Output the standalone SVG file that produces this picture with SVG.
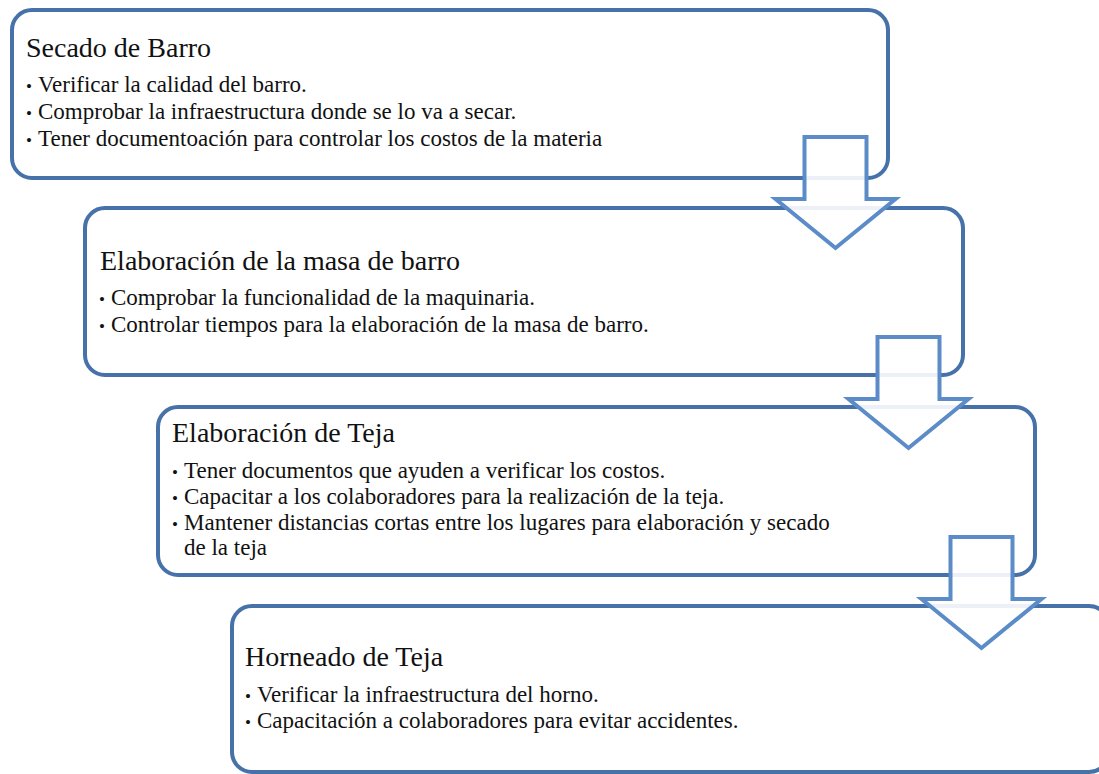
<svg xmlns="http://www.w3.org/2000/svg" width="1099" height="774" viewBox="0 0 1099 774">
<style>
.box{fill:#ffffff;stroke:#4672a9;stroke-width:4}
.arrow{fill:#ffffff;fill-opacity:0.9;stroke:#5b8cc8;stroke-width:4;stroke-linejoin:miter}
.title{font-family:"Liberation Serif","Times New Roman",serif;font-size:28px;fill:#111111}
.item{font-family:"Liberation Serif","Times New Roman",serif;font-size:23px;fill:#111111}
.bul{font-size:17px}
</style>
<defs>
<path id="arrowShape" d="M-31,0 H31 V62 H60 L0,111 L-60,62 H-31 Z"/>
</defs>
<rect width="1099" height="774" fill="#ffffff"/>
<g id="node1">
<rect class="box" x="12" y="10" width="876" height="168" rx="20"/>
<text class="title" x="26" y="57">Secado de Barro</text>
<text class="item" y="92"><tspan class="bul" x="26">•</tspan><tspan x="38">Verificar la calidad del barro.</tspan></text>
<text class="item" y="119"><tspan class="bul" x="26">•</tspan><tspan x="38">Comprobar la infraestructura donde se lo va a secar.</tspan></text>
<text class="item" y="146"><tspan class="bul" x="26">•</tspan><tspan x="38">Tener documentoación para controlar los costos de la materia</tspan></text>
</g>
<g id="node2">
<rect class="box" x="85" y="208" width="878" height="167" rx="20"/>
<text class="title" x="100" y="270">Elaboración de la masa de barro</text>
<text class="item" y="305"><tspan class="bul" x="99">•</tspan><tspan x="111">Comprobar la funcionalidad de la maquinaria.</tspan></text>
<text class="item" y="332"><tspan class="bul" x="99">•</tspan><tspan x="111">Controlar tiempos para la elaboración de la masa de barro.</tspan></text>
</g>
<g id="node3">
<rect class="box" x="158" y="407" width="877" height="168" rx="20"/>
<text class="title" x="172" y="442">Elaboración de Teja</text>
<text class="item" y="478"><tspan class="bul" x="172">•</tspan><tspan x="184">Tener documentos que ayuden a verificar los costos.</tspan></text>
<text class="item" y="504"><tspan class="bul" x="172">•</tspan><tspan x="184">Capacitar a los colaboradores para la realización de la teja.</tspan></text>
<text class="item" y="530"><tspan class="bul" x="172">•</tspan><tspan x="184">Mantener distancias cortas entre los lugares para elaboración y secado</tspan></text>
<text class="item" x="184" y="555">de la teja</text>
</g>
<g id="node4">
<rect class="box" x="232" y="606" width="877" height="166" rx="20"/>
<text class="title" x="245" y="666">Horneado de Teja</text>
<text class="item" y="702"><tspan class="bul" x="245">•</tspan><tspan x="257">Verificar la infraestructura del horno.</tspan></text>
<text class="item" y="728"><tspan class="bul" x="245">•</tspan><tspan x="257">Capacitación a colaboradores para evitar accidentes.</tspan></text>
</g>
<g id="connectors">
<use href="#arrowShape" class="arrow" transform="translate(835.5,137)"/>
<use href="#arrowShape" class="arrow" transform="translate(908.5,337)"/>
<use href="#arrowShape" class="arrow" transform="translate(981.5,537)"/>
</g>
</svg>
